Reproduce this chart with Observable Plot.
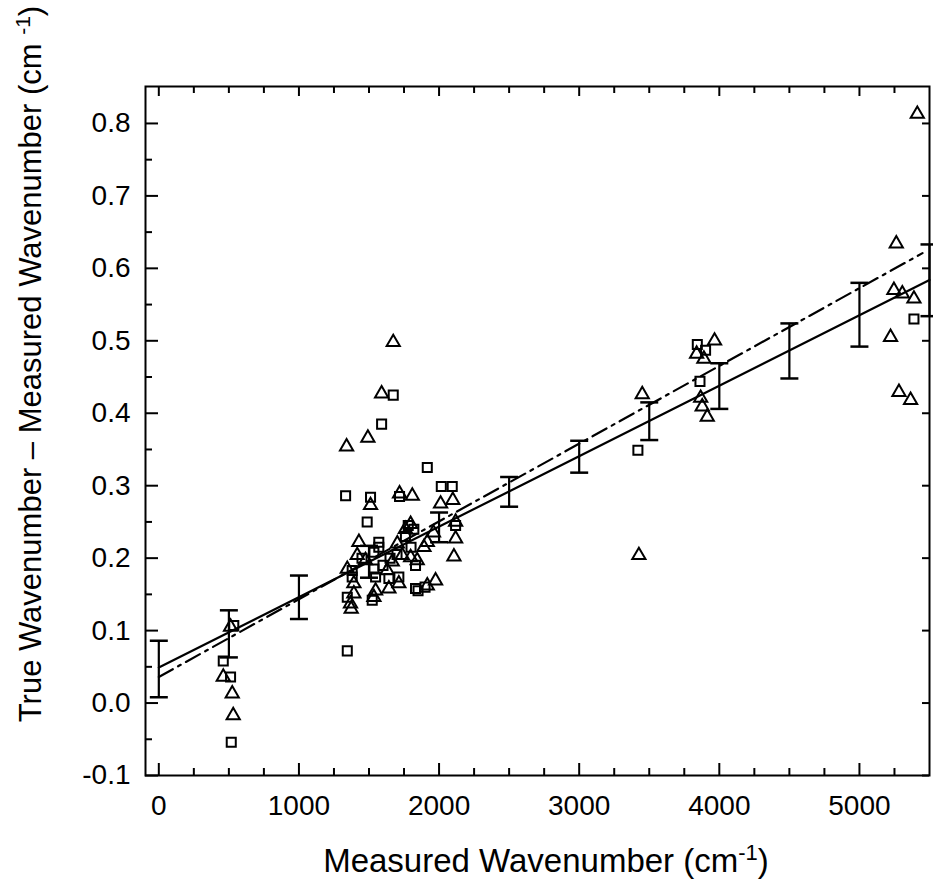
<!DOCTYPE html>
<html><head><meta charset="utf-8">
<script src="https://cdn.jsdelivr.net/npm/d3@7"></script>
<script src="https://cdn.jsdelivr.net/npm/@observablehq/plot@0.6"></script>
<style>body{margin:0;background:#fff} svg{display:block}</style>
</head><body><div id="chart"></div>
<script>
// Square markers (measured wavenumber, difference)
const squareX = [1590,1673,1916,2016,2094,1333,1511,1718,1487,1570,1570,1535,1380,1380,1535,1547,1642,1713,1832,1832,1850,1523,1345,1345,2118,1780,1820,1760,1800,1650,1700,1900,1450,1600,535,460,512,517,3419,3843,3902,3862,5389];
const squareY = [0.385,0.425,0.325,0.299,0.299,0.286,0.284,0.285,0.250,0.222,0.215,0.208,0.183,0.174,0.185,0.174,0.172,0.174,0.190,0.158,0.155,0.142,0.146,0.072,0.245,0.245,0.240,0.230,0.215,0.200,0.205,0.160,0.200,0.190,0.107,0.058,0.036,-0.054,0.349,0.495,0.487,0.444,0.530];
// Triangle markers
const triangleX = [1673,1590,1492,1340,1718,1809,1511,2011,2098,1797,2118,2118,2106,1428,1702,1416,1475,1345,1392,1630,1666,1737,1797,1844,1892,1916,1713,1642,1547,1535,1975,1916,1392,1368,1373,1760,1960,512,460,524,531,3450,3426,3966,3838,3890,3867,3878,3914,5413,5263,5246,5306,5389,5222,5282,5365];
const triangleY = [0.498,0.427,0.366,0.354,0.289,0.286,0.273,0.275,0.280,0.247,0.250,0.227,0.202,0.222,0.220,0.204,0.197,0.185,0.165,0.183,0.195,0.204,0.201,0.197,0.215,0.222,0.165,0.158,0.155,0.146,0.169,0.162,0.151,0.137,0.130,0.240,0.235,0.105,0.036,0.013,-0.017,0.426,0.204,0.500,0.482,0.475,0.421,0.409,0.395,0.813,0.634,0.570,0.565,0.558,0.505,0.429,0.418];
// Error bars
const errX = [0,500,1000,1500,2000,2500,3000,3500,4000,4500,5000,5500];
const errLow = [0.008,0.063,0.116,0.173,0.222,0.271,0.318,0.363,0.406,0.448,0.492,0.534];
const errHigh = [0.086,0.128,0.176,0.217,0.263,0.312,0.362,0.415,0.469,0.524,0.580,0.633];
// Fit lines
const fitSolidX = [0,5500];
const fitSolidY = [0.049,0.584];
const fitDashX = [0,5450];
const fitDashY = [0.036,0.621];
// Ticks
const xMajorTicks = [0,1000,2000,3000,4000,5000];
const xMinorTicks = [250,500,750,1250,1500,1750,2250,2500,2750,3250,3500,3750,4250,4500,4750,5250];
const yMajorTicks = [-0.1,0.0,0.1,0.2,0.3,0.4,0.5,0.6,0.7,0.8];
const yMinorTicks = [-0.05,0.05,0.15,0.25,0.35,0.45,0.55,0.65,0.75];

const squares = squareX.map((x,i)=>({x, y: squareY[i]}));
const triangles = triangleX.map((x,i)=>({x, y: triangleY[i]}));
const errs = errX.map((x,i)=>({x, lo: errLow[i], hi: errHigh[i]}));
const solid = fitSolidX.map((x,i)=>({x, y: fitSolidY[i]}));
const dash = fitDashX.map((x,i)=>({x, y: fitDashY[i]}));

const W = 933, H = 884, mL = 145, mR = 4, mT = 86, mB = 109;
const innerW = W - mL - mR, innerH = H - mT - mB;
const capSymbol = {draw(ctx, size){ const r = Math.sqrt(size/Math.PI); ctx.moveTo(-r,0); ctx.lineTo(r,0); }};

const plot = Plot.plot({
  width: W, height: H,
  marginLeft: mL, marginRight: mR, marginTop: mT, marginBottom: mB,
  style: {fontFamily: "'Liberation Sans', Arial, sans-serif", fontSize: "28px", color: "#000", background: "#fff"},
  x: {domain: [-95, 5500], label: null},
  y: {domain: [-0.1, 0.851], label: null},
  marks: [
    Plot.frame({stroke: "#000", strokeWidth: 2}),
    // bottom ticks
    Plot.tickX(xMajorTicks, {x: d=>d, insetTop: innerH-12, stroke: "#000", strokeWidth: 2}),
    Plot.tickX(xMinorTicks, {x: d=>d, insetTop: innerH-7, stroke: "#000", strokeWidth: 2}),
    // top ticks
    Plot.tickX(xMajorTicks, {x: d=>d, insetBottom: innerH-10, stroke: "#000", strokeWidth: 2}),
    Plot.tickX(xMinorTicks, {x: d=>d, insetBottom: innerH-7, stroke: "#000", strokeWidth: 2}),
    // left ticks
    Plot.tickY(yMajorTicks, {y: d=>d, insetRight: innerW-13, stroke: "#000", strokeWidth: 2}),
    Plot.tickY(yMinorTicks, {y: d=>d, insetRight: innerW-7, stroke: "#000", strokeWidth: 2}),
    // right ticks
    Plot.tickY(yMajorTicks, {y: d=>d, insetLeft: innerW-7, stroke: "#000", strokeWidth: 2}),
    Plot.axisX(xMajorTicks, {tickSize: 0, tickPadding: 20, tickFormat: d=>String(d), fontSize: 28, fill: "#000"}),
    Plot.axisY(yMajorTicks, {tickSize: 0, tickPadding: 15, tickFormat: d=>d.toFixed(1), fontSize: 28, fill: "#000"}),
    // fit lines
    Plot.line(solid, {x: "x", y: "y", stroke: "#000", strokeWidth: 2.2}),
    Plot.line(dash, {x: "x", y: "y", stroke: "#000", strokeWidth: 2.2, strokeDasharray: "16,6,3,6"}),
    // error bars
    Plot.ruleX(errs, {x: "x", y1: "lo", y2: "hi", stroke: "#000", strokeWidth: 2.2}),
    Plot.dot(errs, {x: "x", y: "lo", symbol: capSymbol, r: 9, stroke: "#000", strokeWidth: 2.5, fill: "none"}),
    Plot.dot(errs, {x: "x", y: "hi", symbol: capSymbol, r: 9, stroke: "#000", strokeWidth: 2.5, fill: "none"}),
    // data points
    Plot.dot(squares, {x: "x", y: "y", symbol: "square", r: 5.1, stroke: "#000", strokeWidth: 2, fill: "none"}),
    Plot.dot(triangles, {x: "x", y: "y", symbol: "triangle", r: 4.9, stroke: "#000", strokeWidth: 2, fill: "none"})
  ]
});
document.getElementById("chart").appendChild(plot);

// Axis titles with superscripts
const svg = d3.select(plot);
const xt = svg.append("text")
  .attr("x", 546).attr("y", 872)
  .attr("text-anchor", "middle")
  .attr("font-family", "'Liberation Sans', Arial, sans-serif")
  .attr("font-size", 33).attr("fill", "#000");
xt.append("tspan").text("Measured Wavenumber (cm");
xt.append("tspan").attr("baseline-shift", "super").attr("font-size", 22).text("-1");
xt.append("tspan").text(")");

const yt = svg.append("text")
  .attr("transform", "translate(41,364) rotate(-90)")
  .attr("text-anchor", "middle")
  .attr("font-family", "'Liberation Sans', Arial, sans-serif")
  .attr("font-size", 31).attr("fill", "#000");
yt.append("tspan").text("True Wavenumber \u2013 Measured Wavenumber (cm ");
yt.append("tspan").attr("baseline-shift", "super").attr("font-size", 21).text("-1");
yt.append("tspan").text(")");
</script>
</body></html>
